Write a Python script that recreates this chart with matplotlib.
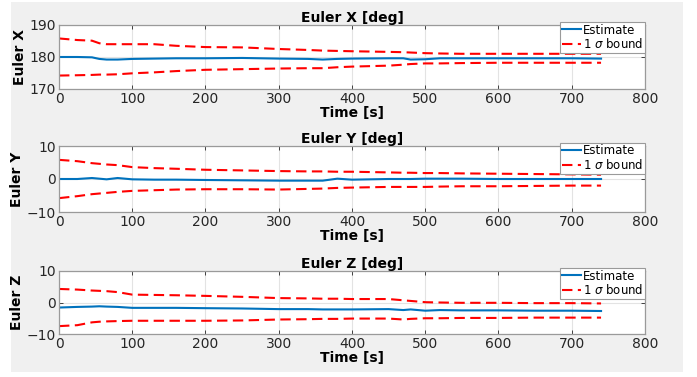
import matplotlib
matplotlib.use("Agg")
import matplotlib.pyplot as plt
from matplotlib.patches import Rectangle

plt.rcParams['font.family'] = ['DejaVu Sans']

t = [0, 25, 45, 55, 65, 80, 100, 130, 160, 200, 250, 300, 340, 360, 380, 400,
     450, 470, 480, 500, 520, 550, 600, 650, 700, 740]

x_est = [180.0, 180.0, 179.9, 179.4, 179.2, 179.2, 179.4, 179.5, 179.6, 179.6, 179.7, 179.5, 179.4,
         179.2, 179.4, 179.5, 179.6, 179.6, 179.2, 179.3, 179.6, 179.6, 179.6, 179.6, 179.6, 179.5]
x_up = [185.8, 185.3, 185.1, 184.3, 184.0, 184.0, 184.0, 184.0, 183.5, 183.1, 183.0, 182.5, 182.2,
        182.0, 181.9, 181.8, 181.6, 181.5, 181.4, 181.2, 181.1, 181.0, 181.0, 181.0, 181.0, 181.0]
x_lo = [174.2, 174.3, 174.4, 174.5, 174.5, 174.6, 174.9, 175.2, 175.6, 176.0, 176.2, 176.4, 176.5,
        176.5, 176.8, 177.0, 177.3, 177.6, 177.8, 178.0, 178.0, 178.1, 178.2, 178.2, 178.2, 178.2]

y_est = [0.0, 0.0, 0.3, 0.1, -0.1, 0.3, -0.1, -0.2, -0.2, -0.3, -0.4, -0.5, -0.5,
         -0.5, 0.1, -0.2, 0.0, 0.0, 0.0, 0.1, 0.1, 0.1, 0.0, 0.0, 0.0, 0.0]
y_up = [5.8, 5.4, 4.8, 4.6, 4.4, 4.2, 3.6, 3.3, 3.1, 2.8, 2.6, 2.4, 2.3,
        2.3, 2.2, 2.2, 2.0, 1.9, 1.9, 1.8, 1.8, 1.7, 1.6, 1.5, 1.4, 1.3]
y_lo = [-5.8, -5.2, -4.6, -4.4, -4.2, -3.9, -3.6, -3.4, -3.2, -3.1, -3.1, -3.2, -3.0,
        -2.9, -2.7, -2.6, -2.4, -2.4, -2.4, -2.4, -2.3, -2.2, -2.2, -2.1, -2.0, -2.0]

z_est = [-1.6, -1.4, -1.3, -1.2, -1.3, -1.4, -1.7, -1.7, -1.7, -1.8, -1.9, -2.1, -2.1,
         -2.2, -2.2, -2.2, -2.1, -2.4, -2.2, -2.6, -2.4, -2.5, -2.5, -2.6, -2.6, -2.7]
z_up = [4.3, 4.1, 3.8, 3.7, 3.6, 3.3, 2.5, 2.4, 2.3, 2.1, 1.8, 1.4, 1.3,
        1.2, 1.2, 1.1, 1.1, 0.7, 0.5, 0.1, 0.0, -0.1, -0.1, -0.2, -0.2, -0.3]
z_lo = [-7.5, -7.2, -6.3, -6.1, -6.0, -5.9, -5.8, -5.8, -5.8, -5.8, -5.7, -5.4, -5.3,
        -5.2, -5.2, -5.1, -5.1, -5.4, -5.2, -5.0, -5.0, -4.9, -4.9, -4.8, -4.8, -4.8]

titles = ["Euler X [deg]", "Euler Y [deg]", "Euler Z [deg]"]
ylabels = ["Euler X", "Euler Y", "Euler Z"]
ylims = [(170, 190), (-10, 10), (-10, 10)]
yticks = [[170, 180, 190], [-10, 0, 10], [-10, 0, 10]]
xticks = [0, 100, 200, 300, 400, 500, 600, 700, 800]
series = [(x_est, x_up, x_lo), (y_est, y_up, y_lo), (z_est, z_up, z_lo)]

W, H = 697, 377
fig = plt.figure(figsize=(W / 100, H / 100), dpi=100)
fig.patch.set_facecolor('white')
fig.patches.append(Rectangle((11 / W, 1 - 372 / H), (683 - 11) / W, (372 - 2) / H,
                             transform=fig.transFigure, facecolor='#f0f0f0',
                             edgecolor='none', zorder=-10))

boxes = [(25, 89), (146, 212), (271, 334)]
left, right = 59, 645
blue = '#0072BD'
dash = (0, (5, 2.6))
for i, (top, bot) in enumerate(boxes):
    ax = fig.add_axes([left / W, 1 - bot / H, (right - left) / W, (bot - top) / H])
    est, up, lo = series[i]
    ax.plot(t, est, color=blue, lw=1.5, label='Estimate')
    ax.plot(t, up, color='#ff0000', lw=1.5, ls=dash, label=r'1 $\sigma$ bound')
    ax.plot(t, lo, color='#ff0000', lw=1.5, ls=dash)
    ax.set_xlim(0, 800)
    ax.set_ylim(*ylims[i])
    ax.set_xticks(xticks)
    ax.set_yticks(yticks[i])
    ax.grid(True, color='#e3e3e3', lw=0.8)
    ax.set_axisbelow(True)
    ax.tick_params(direction='in', top=True, right=True, labelsize=10,
                   colors='#262626', length=3, pad=2, width=0.6)
    for s in ax.spines.values():
        s.set_color('#9a9a9a')
        s.set_linewidth(0.9)
    ax.set_title(titles[i], fontsize=10, fontweight='bold', pad=2)
    ax.set_ylabel(ylabels[i], fontsize=10, fontweight='bold', labelpad=2)
    ax.set_xlabel('Time [s]', fontsize=10, fontweight='bold', labelpad=0)
    leg = ax.legend(loc='upper right', bbox_to_anchor=(1.0, 1.05), fontsize=8.5,
                    fancybox=False, framealpha=1, edgecolor='#9a9a9a',
                    borderpad=0.15, labelspacing=0.05, handlelength=1.6,
                    handletextpad=0.2, borderaxespad=0)
    leg.get_frame().set_linewidth(0.8)

fig.savefig('out.png', dpi=100)
